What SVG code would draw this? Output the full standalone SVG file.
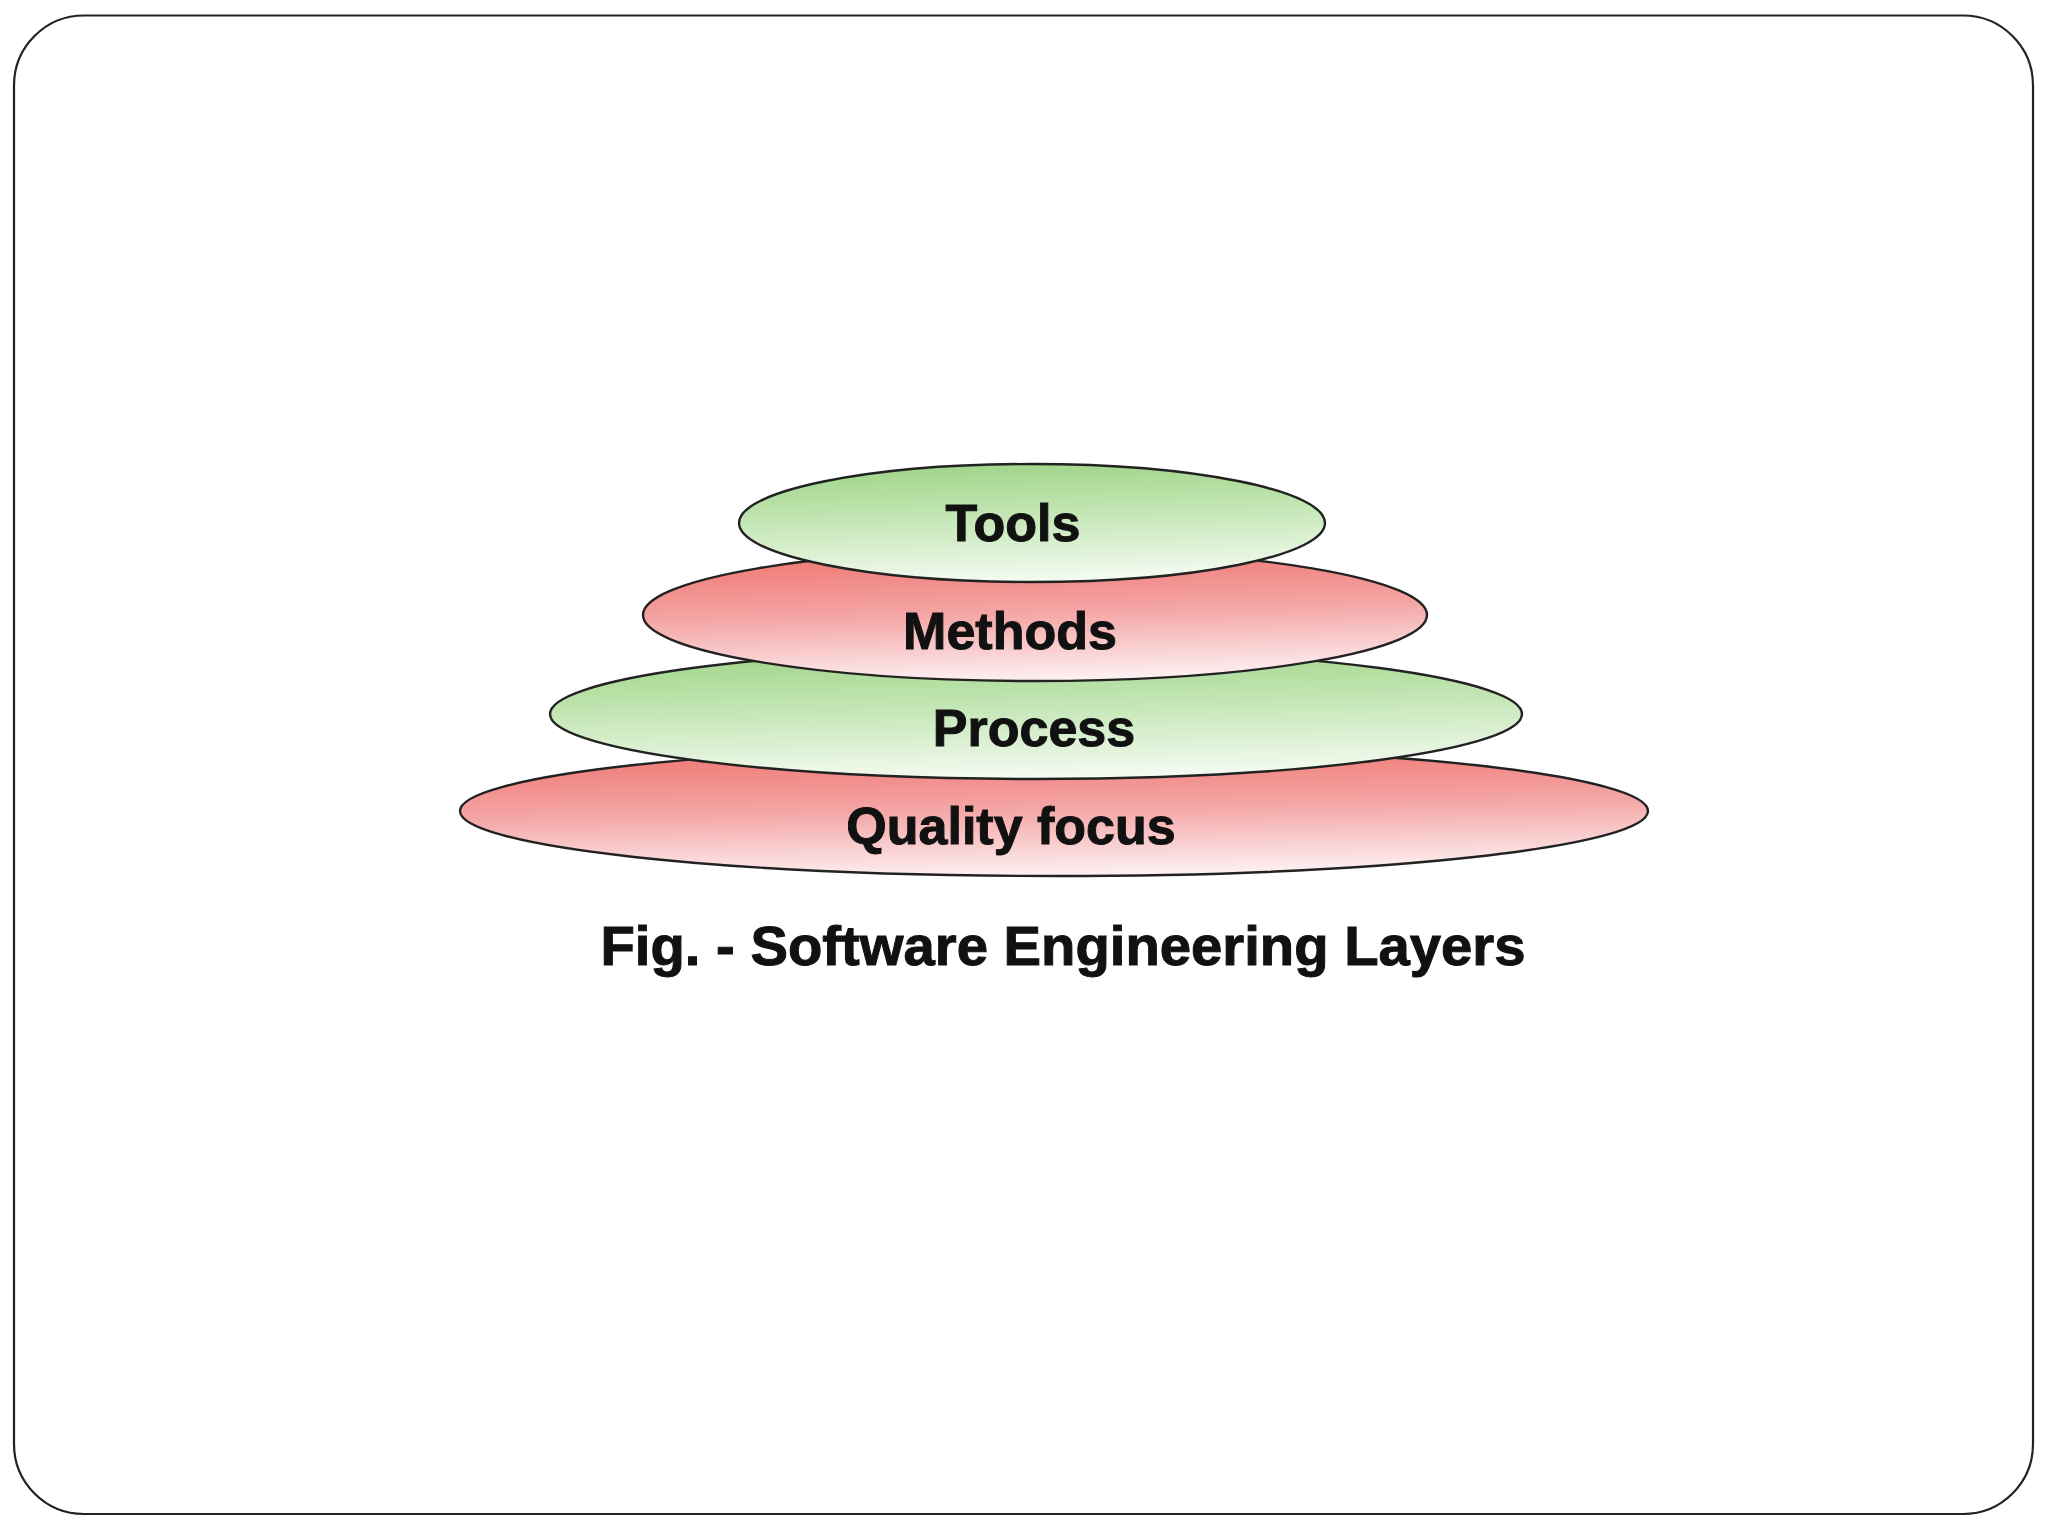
<svg xmlns="http://www.w3.org/2000/svg" width="2048" height="1536" viewBox="0 0 2048 1536">
  <defs>
    <linearGradient id="gRed" x1="0.3" y1="0" x2="0.45" y2="1">
      <stop offset="0" stop-color="#ef7670"/>
      <stop offset="0.5" stop-color="#f4a6a6"/>
      <stop offset="1" stop-color="#fdf0f2"/>
    </linearGradient>
    <linearGradient id="gGreen" x1="0.3" y1="0" x2="0.45" y2="1">
      <stop offset="0" stop-color="#9fd488"/>
      <stop offset="0.5" stop-color="#c8e8ba"/>
      <stop offset="1" stop-color="#f4fbf2"/>
    </linearGradient>
  </defs>
  <style>
    .layer { stroke: #222; stroke-width: 2.4; }
    .red { fill: url(#gRed); }
    .green { fill: url(#gGreen); }
    .lbl { font-family: "Liberation Sans", Arial, sans-serif; font-weight: bold; font-size: 52px; fill: #111; stroke: #111; stroke-width: 1; text-anchor: middle; }
    .cap { font-family: "Liberation Sans", Arial, sans-serif; font-weight: bold; font-size: 55px; fill: #111; stroke: #111; stroke-width: 1; text-anchor: middle; }
  </style>
  <rect x="14" y="15.5" width="2019" height="1498.5" rx="70" ry="70" fill="#ffffff" stroke="#222" stroke-width="2.2"/>
  <g id="quality">
    <ellipse class="layer red" cx="1054" cy="811" rx="594" ry="65"/>
    <text class="lbl" x="1011" y="844">Quality focus</text>
  </g>
  <g id="process">
    <ellipse class="layer green" cx="1036" cy="714" rx="486" ry="65"/>
    <text class="lbl" x="1034" y="746">Process</text>
  </g>
  <g id="methods">
    <ellipse class="layer red" cx="1035" cy="615" rx="392" ry="66"/>
    <text class="lbl" x="1010" y="649">Methods</text>
  </g>
  <g id="tools">
    <ellipse class="layer green" cx="1032" cy="523" rx="293" ry="59"/>
    <text class="lbl" x="1013" y="541">Tools</text>
  </g>
  <g id="connectors"/>
  <g id="caption">
    <text class="cap" x="1063" y="965" textLength="925" lengthAdjust="spacingAndGlyphs">Fig. - Software Engineering Layers</text>
  </g>
</svg>
